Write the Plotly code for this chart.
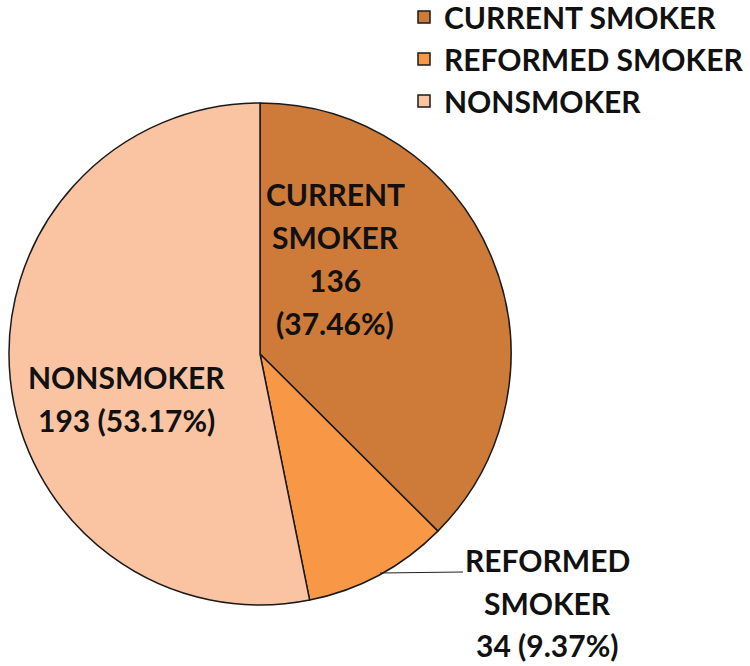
import plotly.graph_objects as go

categories = ["CURRENT SMOKER", "REFORMED SMOKER", "NONSMOKER"]
counts = [136, 34, 193]
percents = ["37.46%", "9.37%", "53.17%"]
colors = ["#CE7B3A", "#F89846", "#FAC4A3"]

W, H = 750, 666
def px(x): return x / W
def py(y): return 1 - y / H

FONT = dict(family="Lato", size=30, color="#111111", weight="bold")

fig = go.Figure(go.Pie(
    labels=categories, values=counts, sort=False, direction="clockwise", rotation=0,
    marker=dict(colors=colors, line=dict(color="#1a1a1a", width=1.5)),
    textinfo="none", hoverinfo="label+value+percent",
    domain=dict(x=[px(9), px(511)], y=[py(605), py(103)]),
))

# label lines (text from data)
label_lines = [
    (["CURRENT", "SMOKER", str(counts[0]), f"({percents[0]})"], 335, [194, 237, 280, 323]),
    (["NONSMOKER", f"{counts[2]} ({percents[2]})"], 126, [377, 420]),
    (["REFORMED", "SMOKER", f"{counts[1]} ({percents[1]})"], 547, [560, 603, 645]),
]
for lines, cx, ys in label_lines:
    for t, yy in zip(lines, ys):
        fig.add_annotation(x=px(cx), y=py(yy), xref="paper", yref="paper", text=t,
                           showarrow=False, font=FONT, xanchor="center", yanchor="middle")

fig.add_shape(type="line", xref="paper", yref="paper", x0=px(380), y0=py(573), x1=px(463), y1=py(572),
              line=dict(color="#222222", width=1.2))

fig.update_layout(
    width=W, height=H, margin=dict(l=0, r=0, t=0, b=0, autoexpand=False),
    paper_bgcolor="white", plot_bgcolor="white",
    showlegend=True,
    legend=dict(x=px(404), y=py(-9), xref="paper", yref="paper", xanchor="left", yanchor="top",
                font=FONT, bgcolor="rgba(0,0,0,0)", tracegroupgap=0),
)
fig.write_html("out.html")
